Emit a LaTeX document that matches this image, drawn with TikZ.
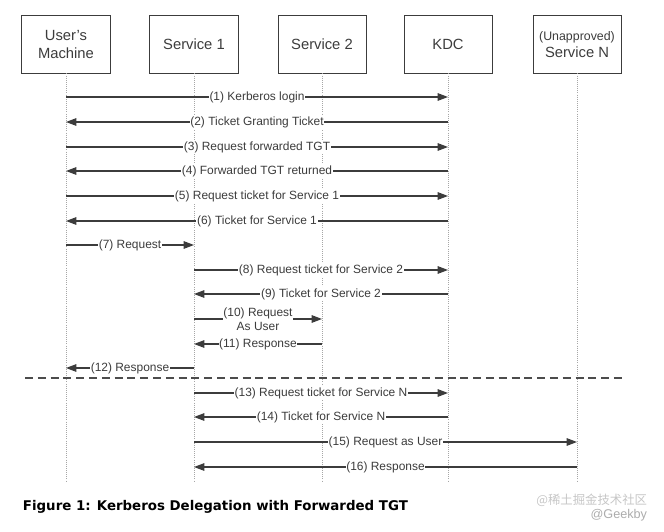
\documentclass[tikz,border=0pt]{standalone}
\usepackage{fontspec}
\setmainfont{Liberation Sans}
\newfontfamily\capfont{DejaVu Sans}
\newfontfamily\cjkfont{Noto Sans CJK SC}
\usetikzlibrary{arrows.meta}
\definecolor{ink}{HTML}{3C3C3C}

\begin{document}
\begin{tikzpicture}[x=0.025cm,y=-0.025cm,
    party/.style={draw=ink,line width=0.7pt,minimum width=2.2cm,minimum height=1.425cm,
        align=center,text=ink,font=\fontsize{10.5}{12.5}\selectfont},
    life/.style={draw=gray!70,densely dotted,line width=0.5pt},
    msg/.style={draw=ink,line width=0.8pt,-{Triangle[length=2.6mm,width=1.9mm]}},
    lbl/.style={fill=white,inner xsep=0.5pt,inner ysep=1pt,align=center,
        text=ink,font=\fontsize{8.5}{10}\selectfont}]

    \useasboundingbox (0,0) rectangle (664,532);

    % Participants
    \node[party] (um)  at (66,44.5)  {User's\\Machine};
    \node[party] (s1)  at (194,44.5) {Service 1};
    \node[party] (s2)  at (322,44.5) {Service 2};
    \node[party] (kdc) at (448,44.5) {KDC};
    \node[party] (sn)  at (577,44.5) {{\fontsize{8.8}{10}\selectfont (Unapproved)}\\Service N};

    % Lifelines
    \coordinate (bottom) at (0,482);
    \foreach \p in {um,s1,s2,kdc,sn} {
        \draw[life] (\p.south) -- (\p |- bottom);
    }

    % Message rows
    \foreach \n/\y in {1/97,2/122,3/147,4/171,5/196,6/221,7/245,8/270,
                       9/294,10/319,11/344,12/368,13/393,14/417,15/442,16/467} {
        \coordinate (r\n) at (0,\y);
    }

    % Messages
    \foreach \n/\src/\dst/\txt in {
        1/um/kdc/{(1) Kerberos login},
        2/kdc/um/{(2) Ticket Granting Ticket},
        3/um/kdc/{(3) Request forwarded TGT},
        4/kdc/um/{(4) Forwarded TGT returned},
        5/um/kdc/{(5) Request ticket for Service 1},
        6/kdc/um/{(6) Ticket for Service 1},
        7/um/s1/{(7) Request},
        8/s1/kdc/{(8) Request ticket for Service 2},
        9/kdc/s1/{(9) Ticket for Service 2},
        10/s1/s2/{(10) Request\\As User},
        11/s2/s1/{(11) Response},
        12/s1/um/{(12) Response},
        13/s1/kdc/{(13) Request ticket for Service N},
        14/kdc/s1/{(14) Ticket for Service N},
        15/s1/sn/{(15) Request as User},
        16/sn/s1/{(16) Response}} {
        \draw[msg] (\src |- r\n) -- node[lbl] {\txt} (\dst |- r\n);
    }

    % Separator
    \coordinate (sepL) at (25,378);
    \coordinate (sepR) at (625,378);
    \draw[gray!60!black,line width=0.9pt,dash pattern=on 0.2cm off 0.12cm] (sepL) -- (sepR);

    % Caption
    \node[anchor=west,font=\capfont\bfseries\fontsize{9.5}{11}\selectfont] (cap) at (18,507)
        {Figure 1: Kerberos Delegation with Forwarded TGT};

    % Watermark
    \node[anchor=east,text=gray!45,font=\cjkfont\fontsize{8.8}{10}\selectfont] (wm) at (652,500)
        {@稀土掘金技术社区};
    \node[anchor=east,text=gray!65,font=\fontsize{9}{11}\selectfont] (wmb) at (652,515) {@Geekby};

\end{tikzpicture}
\end{document}
